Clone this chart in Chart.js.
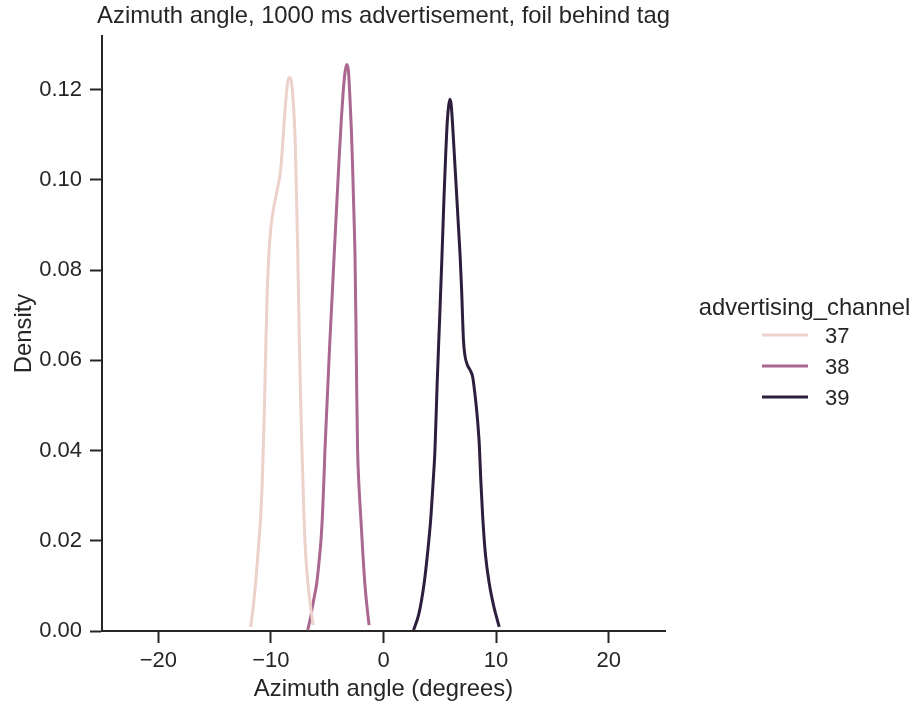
<!DOCTYPE html>
<html>
<head>
<meta charset="utf-8">
<script src="https://cdn.jsdelivr.net/npm/chart.js@4/dist/chart.umd.min.js"></script>
<style>
  html, body { margin: 0; padding: 0; background: #ffffff; }
  #wrap { width: 914px; height: 702px; position: relative; }
  canvas { display: block; }
</style>
</head>
<body>
<div id="wrap"><canvas id="kde" width="914" height="702"></canvas></div>
<script>
// Kernel density curves of azimuth angle, one per advertising channel.
const chartTitle = 'Azimuth angle, 1000 ms advertisement, foil behind tag';
const xAxisTitle = 'Azimuth angle (degrees)';
const yAxisTitle = 'Density';
const legendTitle = 'advertising_channel';

const channels = ['37', '38', '39'];
const channelColors = ['#edd1cb', '#aa678f', '#2d1e3e'];

const xTickValues = [-20, -10, 0, 10, 20];
const yTickValues = [0, 0.02, 0.04, 0.06, 0.08, 0.10, 0.12];

// channel 37
const angle37 = [-11.80, -11.58, -11.36, -11.14, -10.91, -10.78, -10.68, -10.56, -10.44, -10.32, -10.16, -9.98,
                 -9.76, -9.45, -9.14, -8.96, -8.78, -8.60, -8.47, -8.34,
                 -8.20, -8.07, -7.94, -7.83, -7.74, -7.62, -7.49, -7.36, -7.24, -7.06, -6.91, -6.71, -6.47, -6.25];
const density37 = [0.0009, 0.0051, 0.0106, 0.0175, 0.0253, 0.0323, 0.0401, 0.0512, 0.0645, 0.0755, 0.0844, 0.0899,
                   0.0937, 0.0977, 0.1021, 0.1077, 0.1143, 0.1198, 0.1221, 0.1227,
                   0.1221, 0.1192, 0.1143, 0.1077, 0.0977, 0.0844, 0.0667, 0.0512, 0.0401, 0.0253, 0.0168, 0.0106, 0.0053, 0.0013];

// channel 38
const angle38 = [-6.73, -6.47, -6.20, -5.93, -5.71, -5.55, -5.43, -5.31, -5.20, -5.00, -4.78, -4.58, -4.39,
                 -4.17, -3.95, -3.75, -3.59, -3.42, -3.27,
                 -3.12, -3.00, -2.87, -2.76, -2.64, -2.53, -2.45, -2.38, -2.30, -2.18, -2.02, -1.84, -1.66, -1.47, -1.28];
const density38 = [0.0002, 0.0031, 0.0069, 0.0106, 0.0157, 0.0202, 0.0253, 0.0323, 0.0401, 0.0512, 0.0634, 0.0733, 0.0829,
                   0.0937, 0.1043, 0.1132, 0.1192, 0.1238, 0.1256,
                   0.1243, 0.1192, 0.1121, 0.1043, 0.0937, 0.0829, 0.0689, 0.0534, 0.0401, 0.0323, 0.0253, 0.0175, 0.0106, 0.0055, 0.0013];

// channel 39
const angle39 = [2.67, 3.14, 3.61, 3.94, 4.21, 4.39, 4.57, 4.76, 4.98, 5.19, 5.38, 5.52, 5.67, 5.79, 5.90,
                 6.01, 6.14, 6.32, 6.49, 6.65, 6.81, 6.94, 7.03, 7.10, 7.23, 7.46, 7.70, 7.92, 8.08, 8.21,
                 8.39, 8.51, 8.64, 8.81, 9.06, 9.39, 9.81, 10.28];
const density39 = [0.0002, 0.0038, 0.0106, 0.0179, 0.0253, 0.0323, 0.0401, 0.0545, 0.0689, 0.0829, 0.0966, 0.1054, 0.1132, 0.1165, 0.1179,
                   0.1167, 0.1121, 0.1043, 0.0970, 0.0899, 0.0829, 0.0755, 0.0689, 0.0645, 0.0611, 0.0589, 0.0578, 0.0563, 0.0534, 0.0505,
                   0.0456, 0.0412, 0.0335, 0.0253, 0.0168, 0.0106, 0.0053, 0.0009];

const xMin = -25, xMax = 25;
const yMin = 0, yMax = 0.1319;

const TEXT = '#262626';
const FONT = '"Liberation Sans", Arial, sans-serif';

function toPoints(xs, ys) {
  return xs.map((x, i) => ({ x: x, y: ys[i] }));
}

const series = [toPoints(angle37, density37), toPoints(angle38, density38), toPoints(angle39, density39)];

const datasets = channels.map((c, i) => ({
  label: c,
  data: series[i],
  borderColor: channelColors[i],
  backgroundColor: channelColors[i],
  borderWidth: 3,
  pointRadius: 0,
  fill: false,
  cubicInterpolationMode: 'monotone'
}));

function minusSign(v) {
  return String(v).replace('-', '\u2212');
}

// Title, axis titles and the legend to the right of the axes.
const decorations = {
  id: 'decorations',
  afterDraw(chart) {
    const ctx = chart.ctx;
    const area = chart.chartArea;
    const cx = (area.left + area.right) / 2;
    ctx.save();
    ctx.fillStyle = TEXT;
    ctx.textBaseline = 'alphabetic';

    ctx.font = '23.8px ' + FONT;
    ctx.textAlign = 'center';
    ctx.fillText(chartTitle, cx, 23);

    ctx.fillText(xAxisTitle, cx, 696);

    ctx.save();
    ctx.translate(31, (area.top + area.bottom) / 2);
    ctx.rotate(-Math.PI / 2);
    ctx.fillText(yAxisTitle, 0, 0);
    ctx.restore();

    // legend
    ctx.fillText(legendTitle, 804.5, 315);
    const rowY = [335, 366, 397];
    ctx.font = '22px ' + FONT;
    ctx.textAlign = 'left';
    channels.forEach((c, i) => {
      ctx.strokeStyle = channelColors[i];
      ctx.lineWidth = 3;
      ctx.beginPath();
      ctx.moveTo(762, rowY[i]);
      ctx.lineTo(808, rowY[i]);
      ctx.stroke();
      ctx.fillStyle = TEXT;
      ctx.fillText(c, 825, rowY[i] + 8);
    });
    ctx.restore();
  }
};

new Chart(document.getElementById('kde'), {
  type: 'line',
  data: { datasets: datasets },
  options: {
    responsive: false,
    animation: false,
    devicePixelRatio: 1,
    layout: { padding: { top: 36, right: 249, left: 0, bottom: 0 } },
    plugins: {
      legend: { display: false },
      title: { display: false },
      tooltip: { enabled: false }
    },
    scales: {
      x: {
        type: 'linear',
        min: xMin,
        max: xMax,
        afterBuildTicks(scale) { scale.ticks = xTickValues.map(v => ({ value: v })); },
        afterFit(scale) { scale.height = 71; },
        grid: { display: true, drawOnChartArea: false, drawTicks: true, tickLength: 12, tickWidth: 2, tickColor: TEXT },
        border: { display: true, color: TEXT, width: 2 },
        ticks: {
          color: TEXT,
          font: { family: FONT, size: 22 },
          padding: 5,
          maxRotation: 0,
          autoSkip: false,
          callback: v => minusSign(v)
        }
      },
      y: {
        type: 'linear',
        min: yMin,
        max: yMax,
        afterBuildTicks(scale) { scale.ticks = yTickValues.map(v => ({ value: v })); },
        afterFit(scale) { scale.width = 102; },
        grid: { display: true, drawOnChartArea: false, drawTicks: true, tickLength: 12, tickWidth: 2, tickColor: TEXT },
        border: { display: true, color: TEXT, width: 2 },
        ticks: {
          color: TEXT,
          font: { family: FONT, size: 22 },
          padding: 8,
          autoSkip: false,
          callback: v => v.toFixed(2)
        }
      }
    }
  },
  plugins: [decorations]
});
</script>
</body>
</html>
